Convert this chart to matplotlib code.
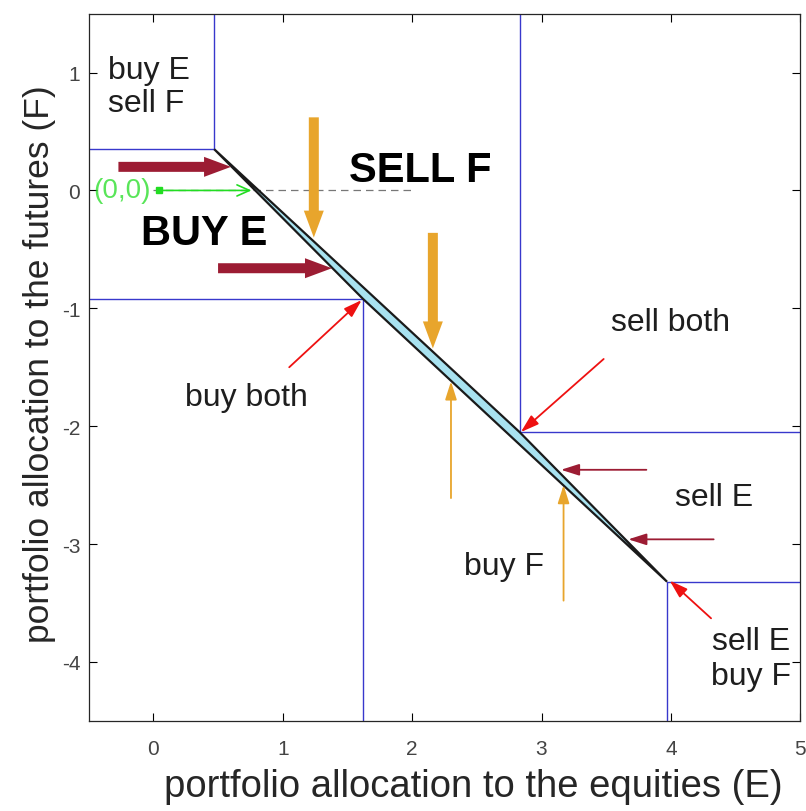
import matplotlib.pyplot as plt
import numpy as np

plt.rcParams['font.family'] = ['Liberation Sans', 'DejaVu Sans']
plt.rcParams['axes.unicode_minus'] = False

# corners of the no-trade region (E, F)
corner_ul = (0.47, 0.35)    # buy E / sell F corner
corner_ll = (1.62, -0.92)   # buy both corner
corner_ur = (2.83, -2.05)   # sell both corner
corner_lr = (3.97, -3.32)   # sell E / buy F corner

# thick arrows: (x_start, y_start, x_end, y_end)
buy_e_arrows = [(-0.27, 0.20, 0.60, 0.20), (0.50, -0.66, 1.38, -0.66)]
sell_f_arrows = [(1.24, 0.62, 1.24, -0.40), (2.16, -0.36, 2.16, -1.34)]
# thin arrows
buy_f_arrows = [(2.30, -2.61, 2.30, -1.62), (3.17, -3.48, 3.17, -2.50)]
sell_e_arrows = [(3.81, -2.37, 3.15, -2.37), (4.33, -2.96, 3.67, -2.96)]
corner_arrows = [(3.48, -1.43, 2.84, -2.05), (1.05, -1.50, 1.61, -0.93),
                 (4.31, -3.63, 3.99, -3.31)]

xlim = (-0.5, 5)
ylim = (-4.5, 1.5)

blue = '#3838cc'
maroon = '#9c1c33'
orange = '#e8a52c'

fig = plt.figure(figsize=(8.06, 8.12), dpi=100)
ax = fig.add_axes([0.110, 0.111, 0.883, 0.871])

# blue region boundaries
ax.plot([xlim[0], corner_ul[0], corner_ul[0]], [corner_ul[1], corner_ul[1], ylim[1]], color=blue, lw=1)
ax.plot([xlim[0], corner_ll[0], corner_ll[0]], [corner_ll[1], corner_ll[1], ylim[0]], color=blue, lw=1)
ax.plot([corner_ur[0], corner_ur[0], xlim[1]], [ylim[1], corner_ur[1], corner_ur[1]], color=blue, lw=1)
ax.plot([corner_lr[0], corner_lr[0], xlim[1]], [ylim[0], corner_lr[1], corner_lr[1]], color=blue, lw=1)

# no-trade band
band_x = [corner_ul[0], corner_ur[0], corner_lr[0], corner_ll[0]]
band_y = [corner_ul[1], corner_ur[1], corner_lr[1], corner_ll[1]]
ax.fill(band_x, band_y, facecolor='#a8e2f0', edgecolor='#1a1a1a', lw=1.6, zorder=3)

# dashed zero line
ax.plot([0, 2.0], [0, 0], color='#777777', lw=0.9, ls=(0, (6, 4)), zorder=2)

# green point and arrow from origin
ax.plot(0.04, 0, 's', color='#22dd22', ms=4, zorder=5)
ax.annotate('', xy=(0.78, 0), xytext=(0.04, 0),
            arrowprops=dict(arrowstyle='->,head_length=0.9,head_width=0.4', color='#22dd22', lw=1.2), zorder=5)
ax.text(-0.02, 0, '(0,0)', color='#22dd22', fontsize=20, ha='right', va='center', alpha=0.75,
        clip_on=False)


def draw_thick(arrows, color):
    for x0, y0, x1, y1 in arrows:
        ax.annotate('', xy=(x1, y1), xytext=(x0, y0),
                    arrowprops=dict(arrowstyle='simple,head_length=0.97,head_width=0.72,tail_width=0.36',
                                    mutation_scale=20, color=color, lw=0, shrinkA=0, shrinkB=0), zorder=6)


def draw_thin(arrows, color):
    for x0, y0, x1, y1 in arrows:
        ax.annotate('', xy=(x1, y1), xytext=(x0, y0),
                    arrowprops=dict(arrowstyle='-|>,head_length=1.1,head_width=0.35',
                                    color=color, lw=1.3, shrinkA=0, shrinkB=0), zorder=6)


draw_thick(buy_e_arrows, maroon)
draw_thick(sell_f_arrows, orange)
draw_thin(buy_f_arrows, orange)
draw_thin(sell_e_arrows, maroon)
draw_thin(corner_arrows, '#ee1111')

# region labels
txt = dict(color='#1e1e1e', fontsize=23)
ax.text(-0.35, 0.88, 'buy E\nsell F', ha='left', va='center', linespacing=1.15, **txt)
ax.text(2.06, 0.17, 'SELL F', ha='center', va='center', fontweight='bold', fontsize=30, color='black')
ax.text(0.39, -0.36, 'BUY E', ha='center', va='center', fontweight='bold', fontsize=30, color='black')
ax.text(4.0, -1.12, 'sell both', ha='center', va='center', **txt)
ax.text(0.72, -1.75, 'buy both', ha='center', va='center', **txt)
ax.text(4.33, -2.60, 'sell E', ha='center', va='center', **txt)
ax.text(2.71, -3.19, 'buy F', ha='center', va='center', **txt)
ax.text(4.62, -3.97, 'sell E\nbuy F', ha='center', va='center', linespacing=1.2, **txt)

ax.set_xlim(*xlim)
ax.set_ylim(*ylim)
ax.set_xticks(np.arange(0, 6))
ax.set_yticks(np.arange(-4, 2))
ax.tick_params(direction='in', top=True, right=True, length=6, width=0.8,
               labelsize=15, labelcolor='#444444')
ax.tick_params(axis='x', pad=13)
ax.tick_params(axis='y', pad=6)
for s in ax.spines.values():
    s.set_color('#262626')
    s.set_linewidth(0.9)

ax.set_xlabel('portfolio allocation to the equities (E)', fontsize=27.5, color='#262626')
ax.xaxis.set_label_coords(0.541, -0.067)
ax.set_ylabel('portfolio allocation to the futures (F)', fontsize=25.5, color='#262626')
ax.yaxis.set_label_coords(-0.046, 0.506)

fig.savefig('out.png', dpi=100)
